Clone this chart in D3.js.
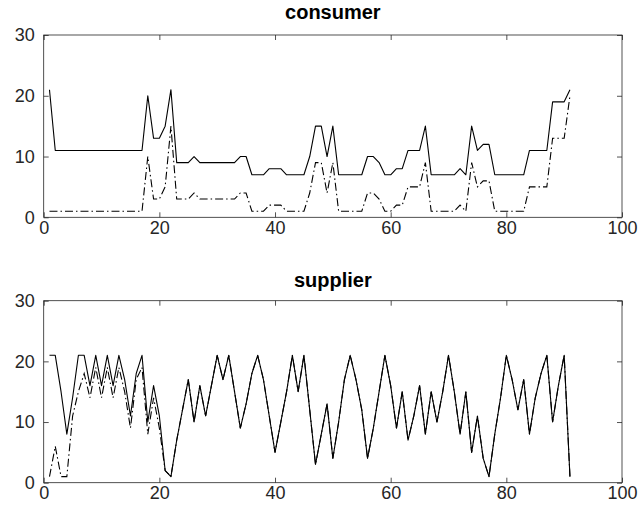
<!DOCTYPE html>
<html>
<head>
<meta charset="utf-8">
<script src="https://cdn.jsdelivr.net/npm/d3@7/dist/d3.min.js"></script>
<style>
  html, body { margin: 0; padding: 0; background: #fff; }
  svg { display: block; }
  .tick text { font-family: "Liberation Sans", Arial, Helvetica, sans-serif; font-size: 18px; fill: #262626; }
  .title { font-family: "Liberation Sans", Arial, Helvetica, sans-serif; font-size: 20px; font-weight: bold; fill: #000; }
</style>
</head>
<body>
<svg id="chart" width="641" height="517"></svg>
<script>
// Per-period values (period 1..91)
const consumerSolid = [
  21, 11, 11, 11, 11, 11, 11, 11, 11, 11,
  11, 11, 11, 11, 11, 11, 11, 20, 13, 13,
  15, 21,  9,  9,  9, 10,  9,  9,  9,  9,
   9,  9,  9, 10, 10,  7,  7,  7,  8,  8,
   8,  7,  7,  7,  7, 10, 15, 15, 10, 15,
   7,  7,  7,  7,  7, 10, 10,  9,  7,  7,
   8,  8, 11, 11, 11, 15,  7,  7,  7,  7,
   7,  8,  7, 15, 11, 12, 12,  7,  7,  7,
   7,  7,  7, 11, 11, 11, 11, 19, 19, 19,
  21
];
const consumerDashDot = [
   1,  1,  1,  1,  1,  1,  1,  1,  1,  1,
   1,  1,  1,  1,  1,  1,  1, 10,  3,  3,
   5, 15,  3,  3,  3,  4,  3,  3,  3,  3,
   3,  3,  3,  4,  4,  1,  1,  1,  2,  2,
   2,  1,  1,  1,  1,  4,  9,  9,  4,  9,
   1,  1,  1,  1,  1,  4,  4,  3,  1,  1,
   2,  2,  5,  5,  5,  9,  1,  1,  1,  1,
   1,  2,  1,  9,  5,  6,  6,  1,  1,  1,
   1,  1,  1,  5,  5,  5,  5, 13, 13, 13,
  20
];
const supplierSolid = [
  21, 21, 15,  8, 14, 21, 21, 16, 21, 16,
  21, 16, 21, 17, 11, 18, 21, 10, 16, 11,
   2,  1,  7, 12, 17, 10, 16, 11, 16, 21,
  17, 21, 15,  9, 13, 18, 21, 17, 11,  5,
  10, 15, 21, 15, 21, 12,  3,  8, 13,  4,
  10, 17, 21, 17, 12,  4,  9, 15, 21, 16,
   9, 15,  7, 11, 16,  8, 15, 10, 15, 21,
  15,  8, 15,  5, 11,  4,  1,  8, 14, 21,
  17, 12, 17,  8, 14, 18, 21, 10, 16, 21,
   1
];
const supplierDashDot = [
   1,  6,  1,  1, 11, 15, 18, 14, 19, 14,
  19, 14, 19, 15,  9, 17, 19,  8, 14,  9,
   2,  1,  7, 12, 17, 10, 16, 11, 16, 21,
  17, 21, 15,  9, 13, 18, 21, 17, 11,  5,
  10, 15, 21, 15, 21, 12,  3,  8, 13,  4,
  10, 17, 21, 17, 12,  4,  9, 15, 21, 16,
   9, 15,  7, 11, 16,  8, 15, 10, 15, 21,
  15,  8, 15,  5, 11,  4,  1,  8, 14, 21,
  17, 12, 17,  8, 14, 18, 21, 10, 16, 21,
   1
];

const xTicks = [0, 20, 40, 60, 80, 100];
const yTicks = [0, 10, 20, 30];
const xDomain = [0, 100];
const yDomain = [0, 30];

const panels = [
  { title: "consumer", solid: consumerSolid, dashdot: consumerDashDot, top: 35, bottom: 217.3, titleGap: 16 },
  { title: "supplier", solid: supplierSolid, dashdot: supplierDashDot, top: 300.7, bottom: 482.7, titleGap: 14 }
];

const svg = d3.select("#chart");
const left = 43.7, right = 622;
const axisColor = "#262626";
const tickLen = 5;

const x = d3.scaleLinear().domain(xDomain).range([left, right]);

panels.forEach(p => {
  const y = d3.scaleLinear().domain(yDomain).range([p.bottom, p.top]);
  const g = svg.append("g");

  // series lines
  const line = d3.line().x((d, i) => x(i + 1)).y(d => y(d));
  g.append("path").datum(p.solid)
    .attr("d", line).attr("fill", "none")
    .attr("stroke", "#000").attr("stroke-width", 1.1)
    .attr("stroke-linejoin", "round");
  g.append("path").datum(p.dashdot)
    .attr("d", line).attr("fill", "none")
    .attr("stroke", "#000").attr("stroke-width", 1.1)
    .attr("stroke-dasharray", "8,3,1.5,3");

  // bottom axis with inward ticks and labels
  const xb = g.append("g").attr("transform", `translate(0,${p.bottom})`)
    .call(d3.axisBottom(x).tickValues(xTicks).tickSize(-tickLen).tickPadding(4));
  // top axis (ticks only)
  const xt = g.append("g").attr("transform", `translate(0,${p.top})`)
    .call(d3.axisTop(x).tickValues(xTicks).tickSize(-tickLen).tickFormat(""));
  // left axis with labels
  const yl = g.append("g").attr("transform", `translate(${left},0)`)
    .call(d3.axisLeft(y).tickValues(yTicks).tickSize(-tickLen).tickPadding(tickLen + 4));
  // right axis (ticks only)
  const yr = g.append("g").attr("transform", `translate(${right},0)`)
    .call(d3.axisRight(y).tickValues(yTicks).tickSize(-tickLen).tickFormat(""));

  [xb, xt, yl, yr].forEach(a => {
    a.select(".domain").remove();
    a.selectAll(".tick line").attr("stroke", axisColor).attr("stroke-width", 0.8);
  });

  // axes box
  g.append("rect")
    .attr("x", left).attr("y", p.top)
    .attr("width", right - left).attr("height", p.bottom - p.top)
    .attr("fill", "none").attr("stroke", axisColor).attr("stroke-width", 0.8);

  g.append("text").attr("class", "title")
    .attr("x", (left + right) / 2).attr("y", p.top - p.titleGap)
    .attr("text-anchor", "middle").text(p.title);
});
</script>
</body>
</html>
